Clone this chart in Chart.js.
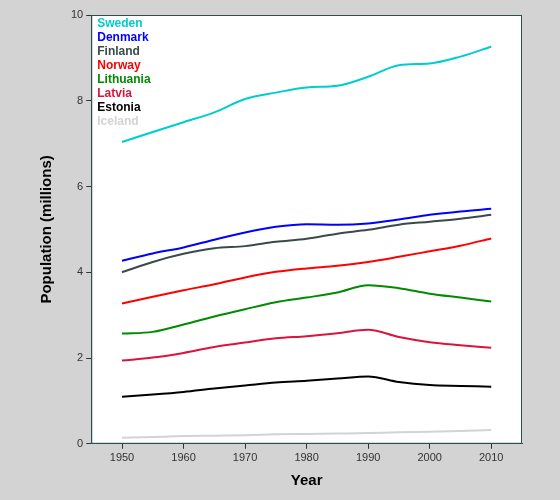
<!DOCTYPE html>
<html>
<head>
<script src="https://cdn.jsdelivr.net/npm/chart.js@4"></script>
<style>
  body { margin: 0; background: #d3d3d3; }
  #wrap { width: 560px; height: 500px; }
</style>
</head>
<body>
<div id="wrap"><canvas id="chart" width="560" height="500"></canvas></div>
<script>
const years = [1950, 1955, 1960, 1965, 1970, 1975, 1980, 1985, 1990, 1995, 2000, 2005, 2010]
const countries = ['Sweden', 'Denmark', 'Finland', 'Norway', 'Lithuania', 'Latvia', 'Estonia', 'Iceland']
const colors = ['#00cdcd', '#0000ff', '#3a4a4a', '#ff0000', '#008b00', '#dc143c', '#000000', '#d3d3d3']
const sweden = [7.04, 7.27, 7.50, 7.73, 8.04, 8.19, 8.31, 8.35, 8.56, 8.83, 8.87, 9.03, 9.26]
const denmark = [4.27, 4.44, 4.58, 4.76, 4.93, 5.06, 5.12, 5.11, 5.14, 5.23, 5.34, 5.42, 5.48]
const finland = [4.00, 4.24, 4.43, 4.56, 4.61, 4.71, 4.78, 4.90, 4.99, 5.11, 5.18, 5.25, 5.34]
const norway = [3.27, 3.43, 3.58, 3.72, 3.88, 4.01, 4.09, 4.15, 4.24, 4.36, 4.49, 4.62, 4.79]
const lithuania = [2.57, 2.61, 2.78, 2.97, 3.14, 3.30, 3.41, 3.53, 3.70, 3.63, 3.50, 3.41, 3.32]
const latvia = [1.94, 2.01, 2.12, 2.26, 2.36, 2.46, 2.51, 2.58, 2.66, 2.49, 2.37, 2.30, 2.24]
const estonia = [1.10, 1.15, 1.21, 1.29, 1.36, 1.43, 1.47, 1.52, 1.57, 1.44, 1.37, 1.35, 1.33]
const iceland = [0.14, 0.16, 0.18, 0.19, 0.20, 0.22, 0.23, 0.24, 0.25, 0.27, 0.28, 0.30, 0.32]
const series = [sweden, denmark, finland, norway, lithuania, latvia, estonia, iceland]
const xTicks = [1950, 1960, 1970, 1980, 1990, 2000, 2010]
const yTicks = [0, 2, 4, 6, 8, 10]

// white plot area, frame and legend text
const plotDecor = {
    id: 'plotDecor',
    beforeDraw(chart) {
        const { ctx, chartArea: a } = chart
        ctx.save()
        ctx.fillStyle = '#ffffff'
        ctx.fillRect(a.left, a.top, a.right - a.left, a.bottom - a.top)
        ctx.restore()
    },
    afterDraw(chart) {
        const { ctx, chartArea: a } = chart
        ctx.save()
        ctx.strokeStyle = '#2f4f4f'
        ctx.lineWidth = 1
        ctx.strokeRect(a.left + 0.5, a.top + 0.5, a.right - a.left - 1, a.bottom - a.top - 1)
        ctx.font = 'bold 12px "Liberation Sans", Arial, sans-serif'
        ctx.textBaseline = 'top'
        countries.forEach((name, i) => {
            ctx.fillStyle = colors[i]
            ctx.fillText(name, a.left + 6, a.top + 3 + i * 14)
        })
        ctx.restore()
    }
}

const datasets = countries.map((name, i) => ({
    label: name,
    data: years.map((y, j) => ({ x: y, y: series[i][j] })),
    borderColor: colors[i],
    borderWidth: 2,
    pointRadius: 0,
    cubicInterpolationMode: 'monotone',
    fill: false
}))

new Chart(document.getElementById('chart').getContext('2d'), {
    type: 'line',
    data: { datasets: datasets },
    plugins: [plotDecor],
    options: {
        responsive: false,
        animation: false,
        layout: { padding: { top: 15, right: 38, bottom: 10, left: 38 } },
        plugins: { legend: { display: false }, tooltip: { enabled: false } },
        scales: {
            x: {
                type: 'linear',
                min: 1945,
                max: 2015,
                afterBuildTicks: axis => { axis.ticks = xTicks.map(v => ({ value: v })) },
                ticks: { color: '#333', font: { size: 11, family: 'Liberation Sans' }, callback: v => String(v) },
                grid: { drawOnChartArea: false, tickLength: 5, color: '#333' },
                border: { color: '#2f4f4f' },
                title: { display: true, text: 'Year', color: '#000', padding: { top: 4, bottom: 0 }, font: { size: 15, weight: 'bold', family: 'Liberation Sans' } }
            },
            y: {
                min: 0,
                max: 10,
                afterBuildTicks: axis => { axis.ticks = yTicks.map(v => ({ value: v })) },
                ticks: { color: '#333', font: { size: 11, family: 'Liberation Sans' } },
                grid: { drawOnChartArea: false, tickLength: 5, color: '#333' },
                border: { color: '#2f4f4f' },
                title: { display: true, text: 'Population (millions)', color: '#000', padding: { top: 0, bottom: 12 }, font: { size: 15, weight: 'bold', family: 'Liberation Sans' } }
            }
        }
    }
})
</script>
</body>
</html>
